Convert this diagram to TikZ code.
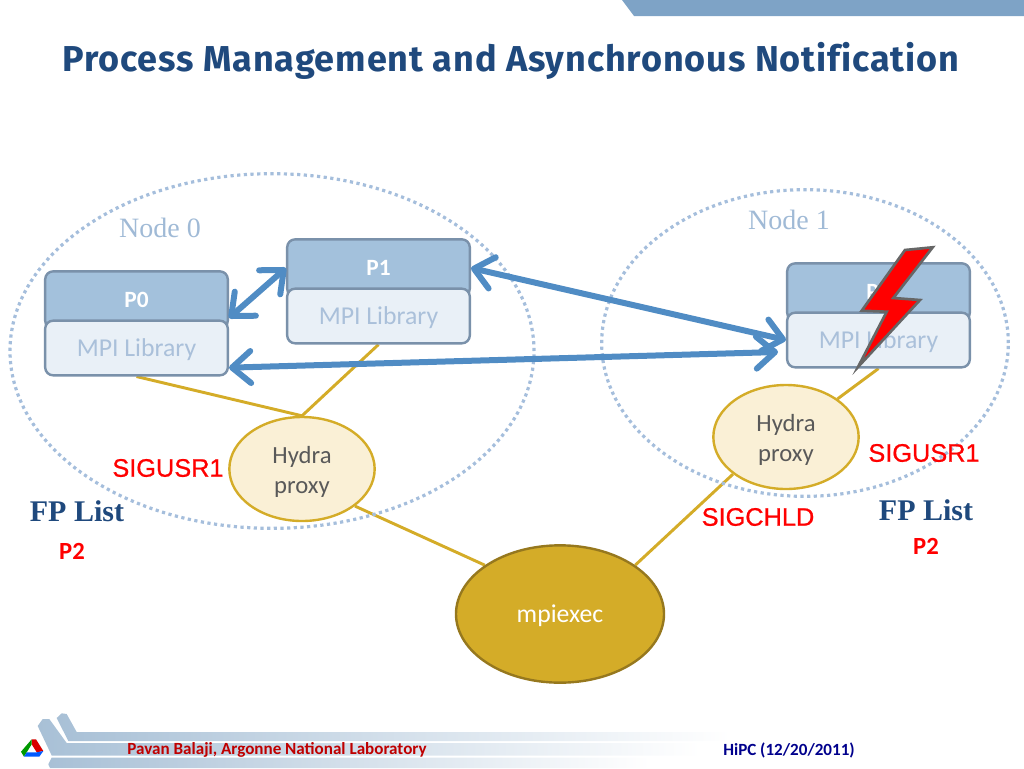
\documentclass[tikz,border=0pt]{standalone}
\usepackage{fontspec}
\setmainfont{Carlito}
\newfontfamily\titlefont{Fira Sans}[LetterSpace=2.5,Ligatures=NoCommon]
\newfontfamily\labelfont{Liberation Sans}[FakeBold=0.8]
\newfontfamily\serifont{Liberation Serif}
\usetikzlibrary{arrows.meta, shapes.geometric, backgrounds}
\definecolor{barcolor}{RGB}{126, 163, 198}
\definecolor{titlecolor}{RGB}{31, 73, 125}
\definecolor{headcolor}{RGB}{163, 193, 220}
\definecolor{libcolor}{RGB}{233, 240, 247}
\definecolor{edgecolor}{RGB}{122, 145, 170}
\definecolor{libtext}{RGB}{170, 192, 218}
\definecolor{nodetext}{RGB}{160, 186, 214}
\definecolor{dotcolor}{RGB}{165, 190, 220}
\definecolor{linkcolor}{RGB}{212, 172, 40}
\definecolor{proxycolor}{RGB}{250, 240, 214}
\definecolor{execcolor}{RGB}{212, 172, 40}
\definecolor{execedge}{RGB}{150, 120, 30}
\definecolor{msgcolor}{RGB}{80, 140, 196}
\definecolor{footcolor}{RGB}{168, 192, 214}
\begin{document}
\begin{tikzpicture}[
    x=0.75pt, y=-0.75pt,
    prochead/.style={draw=edgecolor, fill=headcolor, line width=1.8pt, rounded corners=6pt, minimum width=137pt, minimum height=43pt, inner sep=0pt, text=white, font=\bfseries\fontsize{17.5}{18}\selectfont},
    lib/.style={draw=edgecolor, fill=libcolor, line width=1.8pt, rounded corners=6pt, minimum width=137pt, minimum height=41pt, inner sep=0pt, text=libtext, text height=17pt, text depth=3.8pt, font=\fontsize{19.3}{20}\selectfont},
    proxy/.style={ellipse, draw=linkcolor, fill=proxycolor, line width=1.8pt, minimum width=109pt, minimum height=78pt, inner sep=0pt, align=center, text=black!65!white, font=\fontsize{18.5}{23}\selectfont},
    exec/.style={ellipse, draw=execedge, fill=execcolor, line width=1.8pt, minimum width=156pt, minimum height=103pt, inner sep=0pt, text=white, text height=17pt, text depth=3.8pt, font=\fontsize{19.3}{20}\selectfont},
    hostregion/.style={ellipse, draw=dotcolor, line width=2.4pt, dash pattern=on 2.4pt off 2.6pt, inner sep=0pt},
    hostname/.style={text=nodetext, font=\serifont\fontsize{21}{23}\selectfont},
    fplist/.style={text=titlecolor, font=\serifont\bfseries\fontsize{22.5}{24}\selectfont},
    signame/.style={text=red, font=\labelfont\fontsize{19}{20}\selectfont},
    fpentry/.style={text=red, font=\bfseries\fontsize{18.5}{20}\selectfont},
    link/.style={draw=linkcolor, line width=2.2pt},
    msg/.style={draw=msgcolor, line width=4.5pt, {Straight Barb[length=14pt,width=24pt,line width=4.5pt,round]}-{Straight Barb[length=14pt,width=24pt,line width=4.5pt,round]}}
]
    \useasboundingbox (0,0) rectangle (1024,768);
    % Slide furniture
    \fill[barcolor] (622,0) -- (634,16) -- (1024,16) -- (1024,0) -- cycle;
    \node[text=titlecolor, font=\titlefont\bfseries\fontsize{27}{30}\selectfont, anchor=west, inner sep=0pt] (title) at (62,61) {Process Management and Asynchronous Notification};

    % Footer bands
    \shade[left color=footcolor, right color=white] (56.7,718) -- (61.7,713.3) -- (66.7,714) -- (76.7,732) -- (730,732) -- (730,741) -- (68.3,741) -- cycle;
    \shade[left color=footcolor, right color=white] (37.7,726) -- (42.7,719) -- (49.3,719) -- (66.7,743) -- (700,743) -- (700,755.5) -- (51.7,755.5) -- cycle;
    \shade[left color=footcolor, right color=white] (51.7,757.5) -- (650,757.5) -- (650,768) -- (50,768) -- (48.3,764.3) -- cycle;

    % Logo
    \fill[red!85!black] (31.7,739.3) -- (36,739.3) -- (43.3,751) -- (36.7,752.3) -- (31.7,744.3) -- cycle;
    \fill[green!60!black] (31.7,739.3) -- (21,751.7) -- (24,756.7) -- (26.7,752.3) -- (31.7,744.3) -- cycle;
    \fill[blue!65!cyan] (24,756.7) -- (39.3,756.7) -- (43.3,751) -- (36.7,752.3) -- (26.7,752.3) -- cycle;

    % Nodes
    \node[hostregion, minimum width=393pt, minimum height=266pt] (node0) at (272,351) {};
    \node[hostregion, minimum width=305pt, minimum height=230pt] (node1) at (805,343) {};
    \node[hostname] (name0) at (160,228) {Node 0};
    \node[hostname] (name1) at (789,220) {Node 1};

    \node[prochead] (p0) at (136.5,300) {P0};
    \node[lib] (lib0) at (136.5,348) {MPI Library};
    \node[prochead] (p1) at (378.5,268) {P1};
    \node[lib] (lib1) at (378.5,316) {MPI Library};
    \node[prochead] (p2) at (878.5,292) {P2};
    \node[lib] (lib2) at (878.5,340) {MPI Library};

    \node[proxy] (proxy0) at (302,469) {\rule{0pt}{17pt}Hydra\\proxy};
    \node[proxy] (proxy1) at (786,437) {\rule{0pt}{17pt}Hydra\\proxy};
    \node[exec] (mpiexec) at (560,614) {mpiexec};

    % Links
    \begin{scope}[on background layer]
    \draw[link] (lib0.south) -- (proxy0.north);
    \draw[link] (lib1.south) -- (proxy0.north);
    \draw[link] (lib2.south) -- (proxy1);
    \draw[link] (proxy0.-35) -- (mpiexec.147);
    \draw[link] (proxy1.215) -- (mpiexec.33);
    \end{scope}

    % Messages
    \coordinate (stop2) at (778,352);
    \draw[msg] (p0.-11) -- (p1.west);
    \draw[msg] (p1.east) -- (lib2.west);
    \draw[msg] (lib0.-12) -- (stop2);

    % Failure bolt
    \draw[draw=black!60!white, fill=red, line width=2pt, line join=miter] (932.7,247.3) -- (905,250) -- (861.7,310.7) -- (886.7,311.7) -- (858,367) -- (920,300) -- (893.3,298) -- cycle;

    % Signals
    \node[signame] (sig0) at (168,468) {SIGUSR1};
    \node[signame] (sig1) at (924,453) {SIGUSR1};
    \node[signame] (sig2) at (758,517) {SIGCHLD};
    \node[fplist] (list0) at (77,511) {FP List};
    \node[fplist] (list1) at (926,510) {FP List};
    \node[fpentry] (entry0) at (72,551) {P2};
    \node[fpentry] (entry1) at (926,546) {P2};

    % Footer text
    \node[text=red!75!black, font=\bfseries\fontsize{12.8}{14}\selectfont] (author) at (277,750) {Pavan Balaji, Argonne National Laboratory};
    \node[text=blue!55!black, font=\bfseries\fontsize{12.8}{14}\selectfont] (venue) at (789,750) {HiPC (12/20/2011)};
\end{tikzpicture}
\end{document}
